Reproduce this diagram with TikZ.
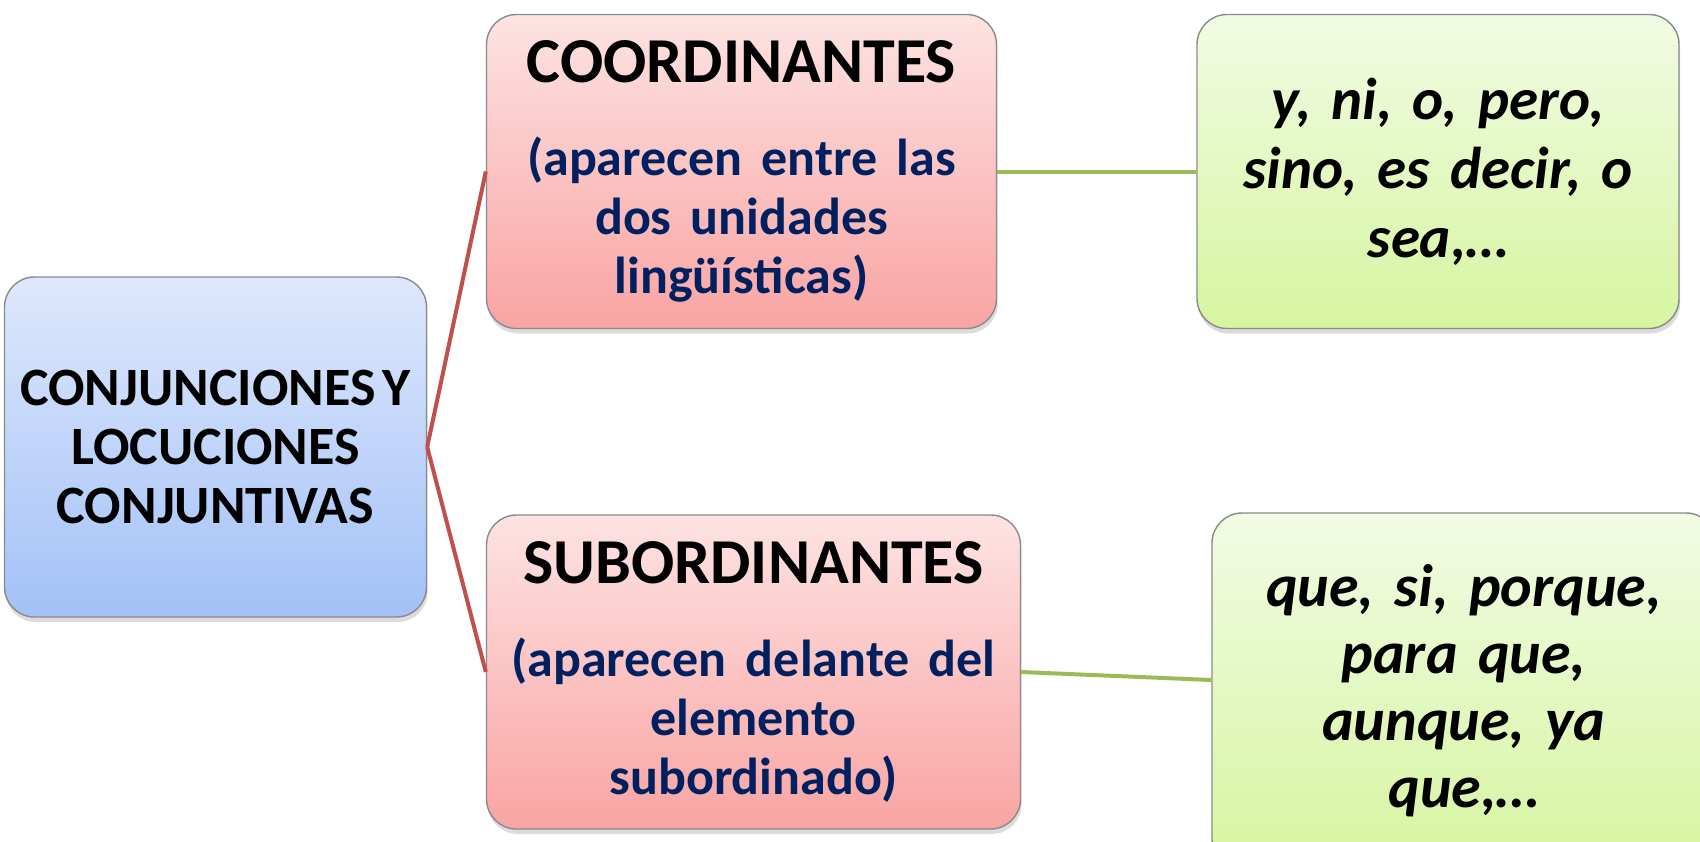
\documentclass[tikz,border=0pt]{standalone}
\usepackage{fontspec}
\setmainfont{Carlito}
\usetikzlibrary{shadows,calc}
\definecolor{navyT}{HTML}{002060}
\definecolor{redL}{HTML}{C0504D}
\definecolor{greenL}{HTML}{9BBB59}
\definecolor{boxEdge}{HTML}{8A8A8A}
\definecolor{blueTop}{HTML}{DEE8FC}
\definecolor{blueBot}{HTML}{A3C1F7}
\definecolor{redTop}{HTML}{FDE3E3}
\definecolor{redBot}{HTML}{F9A4A2}
\definecolor{greenTop}{HTML}{F2FBE4}
\definecolor{greenBot}{HTML}{D6F5A0}
\tikzset{
  box/.style={draw=boxEdge, line width=0.7pt, rounded corners=15pt, inner sep=4pt,
    align=center, drop shadow={opacity=0.28, shadow xshift=0.6pt, shadow yshift=-2.5pt}},
  bluebox/.style={box, top color=blueTop, bottom color=blueBot},
  redbox/.style={box, top color=redTop, bottom color=redBot},
  greenbox/.style={box, top color=greenTop, bottom color=greenBot},
  redline/.style={draw=redL, line width=2pt},
  greenline/.style={draw=greenL, line width=2pt},
}
\begin{document}
\begin{tikzpicture}[x=0.5pt,y=-0.5pt]
\useasboundingbox (0,0) rectangle (1700,841);
\clip (0,0) rectangle (1700,841);
\node[bluebox, minimum width=205.5pt, minimum height=170pt, text width=203pt,
  font=\fontsize{27}{29.5}\selectfont\bfseries] (main) at (215.5,447)
  {\spaceskip=0.13em\relax CONJUNCIONES Y\\LOCUCIONES\\CONJUNTIVAS};
\node[redbox, minimum width=249.5pt, minimum height=157pt, text width=247pt,
  font=\bfseries] (coord) at (741.5,171.5)
  {\vspace*{4pt}{\fontsize{32}{36}\selectfont COORDINANTES\par}\vspace{13pt}%
   {\color{navyT}\fontsize{26}{29.5}\selectfont\spaceskip=0.37em\relax (aparecen entre las\\dos unidades\\lingüísticas)\par}};
\node[redbox, minimum width=261.5pt, minimum height=157pt, text width=259pt,
  font=\bfseries] (sub) at (753.5,672)
  {\vspace*{4pt}{\fontsize{32}{36}\selectfont SUBORDINANTES\par}\vspace{13pt}%
   {\color{navyT}\fontsize{26}{29.5}\selectfont\spaceskip=0.37em\relax (aparecen delante del\\elemento\\subordinado)\par}};
\node[greenbox, minimum width=235.5pt, minimum height=157pt, text width=233pt,
  font=\fontsize{29.5}{34.5}\selectfont\bfseries\itshape] (ex1) at (1438,171.5)
  {\spaceskip=0.34em\relax y, ni, o, pero,\\sino, es decir, o\\sea,…};
\node[greenbox, minimum width=248pt, minimum height=178pt, text width=244pt,
  font=\fontsize{30}{33.5}\selectfont\bfseries\itshape] (ex2) at (1464,691)
  {\spaceskip=0.34em\relax que, si, porque,\\para que,\\aunque, ya\\que,…};
\draw[redline] (main.east) -- (coord.west);
\draw[redline] (main.east) -- (sub.west);
\draw[greenline] (coord.east) -- (ex1.west);
\draw[greenline] (sub.east) -- ([yshift=5.5pt]ex2.west);
\end{tikzpicture}
\end{document}
